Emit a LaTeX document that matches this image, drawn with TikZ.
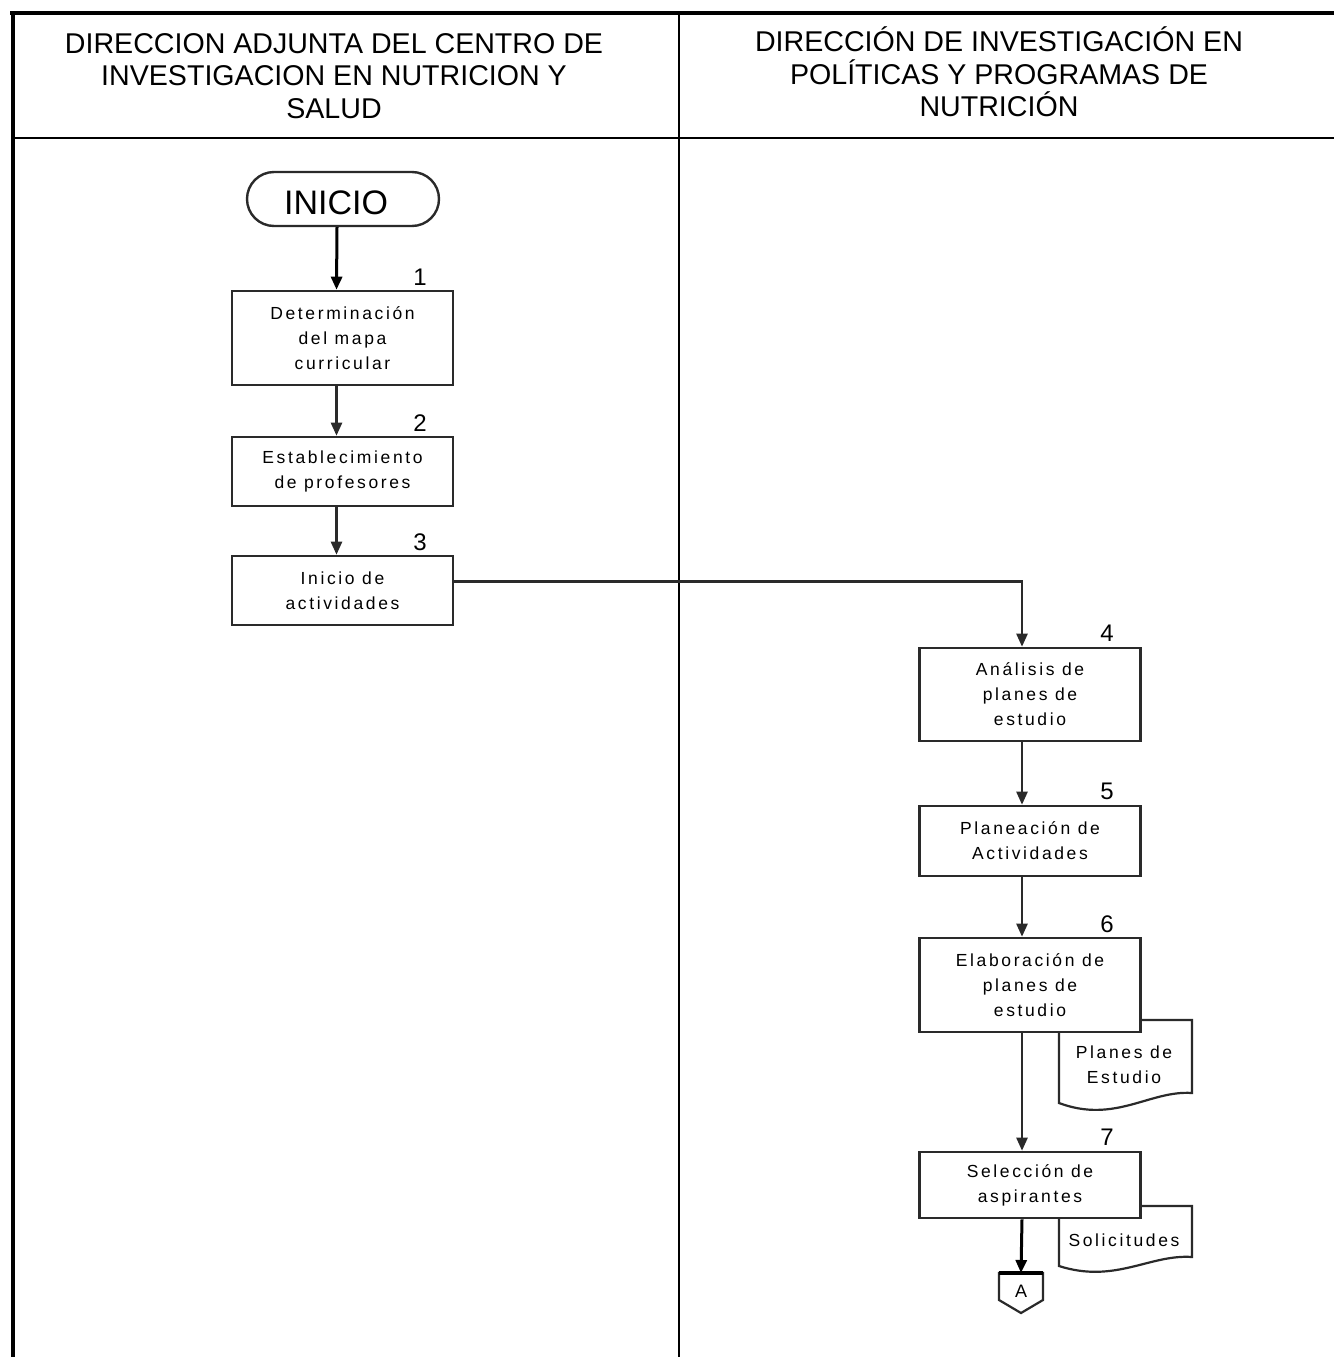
\documentclass[tikz,border=0pt]{standalone}
\usepackage{fontspec}
\setmainfont{Liberation Sans}
\newfontfamily\boxfont[LetterSpace=15]{Liberation Sans}
\usetikzlibrary{arrows.meta,calc,shapes.misc}
\definecolor{ln}{HTML}{2A2A2A}
\tikzset{
  procbox/.style={draw=ln, fill=white, line width=2.6pt, inner sep=0pt,
    minimum width=221pt, align=center,
    font=\boxfont\fontsize{17.5}{25}\selectfont},
  numlbl/.style={font=\fontsize{24}{24}\selectfont, inner sep=0pt},
  hdr/.style={align=center, inner sep=0pt, font=\fontsize{28.6}{32.5}\selectfont},
  flow/.style={draw=ln, line width=2.4pt, -{Triangle[length=13pt,width=11pt]}},
  doclbl/.style={align=center, inner sep=0pt, font=\boxfont\fontsize{17.5}{25}\selectfont},
}
\begin{document}
\begin{tikzpicture}[x=1pt,y=-1pt]
\useasboundingbox (0,0) rectangle (1334,1357);
% frame
\draw[line width=2.2pt] (13,138) -- (1334,138);
\draw[line width=2.2pt] (679,13) -- (679,1357);
\draw[line width=4.5pt] (10,13) -- (1334,13);
\draw[line width=4.5pt] (13,11) -- (13,1357);
% headers
\node[hdr] (h1) at (334,76) {DIRECCION ADJUNTA DEL CENTRO DE\\INVESTIGACION EN NUTRICION Y\\SALUD};
\node[hdr] (h2) at (999,72) {DIRECCIÓN DE INVESTIGACIÓN EN\\POLÍTICAS Y PROGRAMAS DE\\NUTRICIÓN};
% start
\node[draw=ln, line width=2.4pt, rounded rectangle, minimum width=192pt, minimum height=54pt, inner sep=0pt] (ini) at (343,199) {};
\node[inner sep=0pt, font=\fontsize{34}{34}\selectfont] (initxt) at (336,203) {INICIO};
% boxes
\node[procbox, minimum height=94pt] (b1) at (342.5,338) {Determinación\\del mapa\\curricular};
\node[procbox, minimum height=69pt] (b2) at (342.5,471.5) {Establecimiento\\de profesores};
\node[procbox, minimum height=69pt] (b3) at (342.5,590.5) {Inicio de\\actividades};
\node[procbox, minimum height=93pt] (b4) at (1030,694.5) {Análisis de\\planes de\\estudio};
\node[procbox, minimum height=70pt] (b5) at (1030,841) {Planeación de\\Actividades};
% documents (behind boxes 6 and 7)
\draw[draw=ln, line width=2.2pt, fill=white] (1059,1032) -- (1059,1020) -- (1192,1020) -- (1192,1093)
  .. controls (1150,1090) and (1115,1124) .. (1059,1103) -- cycle;
\node[doclbl] (d1) at (1124,1065) {Planes de\\Estudio};
\draw[draw=ln, line width=2.2pt, fill=white] (1059,1218) -- (1059,1206) -- (1192,1206) -- (1192,1257)
  .. controls (1150,1254) and (1115,1284) .. (1059,1266) -- cycle;
\node[doclbl] (d2) at (1124,1240) {Solicitudes};
\node[procbox, minimum height=94pt] (b6) at (1030,985) {Elaboración de\\planes de\\estudio};
\node[procbox, minimum height=66pt] (b7) at (1030,1185) {Selección de\\aspirantes};
% numbers
\node[numlbl] (n1) at (420,277) {1};
\node[numlbl] (n2) at (420,423) {2};
\node[numlbl] (n3) at (420,542) {3};
\node[numlbl] (n4) at (1107,633) {4};
\node[numlbl] (n5) at (1107,791) {5};
\node[numlbl] (n6) at (1107,924) {6};
\node[numlbl] (n7) at (1107,1137) {7};
% off-page connector
\coordinate (A) at (1021,1273);
\draw[draw=ln, line width=2.2pt, fill=white] (999,1273) -- (1043,1273) -- (1043,1300) -- (1021,1313) -- (999,1300) -- cycle;
\draw[line width=3.5pt] (999,1273) -- (1043,1273);
\node[inner sep=0pt, font=\fontsize{18}{18}\selectfont] (Alab) at (1021,1291) {A};
% connectors
\draw[flow, draw=black, line width=3pt] ([xshift=-6pt]ini.south) -- ([xshift=-6pt]b1.north);
\draw[flow] ([xshift=-6pt]b1.south) -- ([xshift=-6pt]b2.north);
\draw[flow] ([xshift=-6pt]b2.south) -- ([xshift=-6pt]b3.north);
\draw[flow] ([yshift=9pt]b3.east) -| ([xshift=-8pt]b4.north);
\draw[flow] ([xshift=-8pt]b4.south) -- ([xshift=-8pt]b5.north);
\draw[flow] ([xshift=-8pt]b5.south) -- ([xshift=-8pt]b6.north);
\draw[flow] ([xshift=-8pt]b6.south) -- ([xshift=-8pt]b7.north);
\draw[flow, draw=black, line width=3pt] ([xshift=-8pt]b7.south) -- (A);
\end{tikzpicture}
\end{document}
